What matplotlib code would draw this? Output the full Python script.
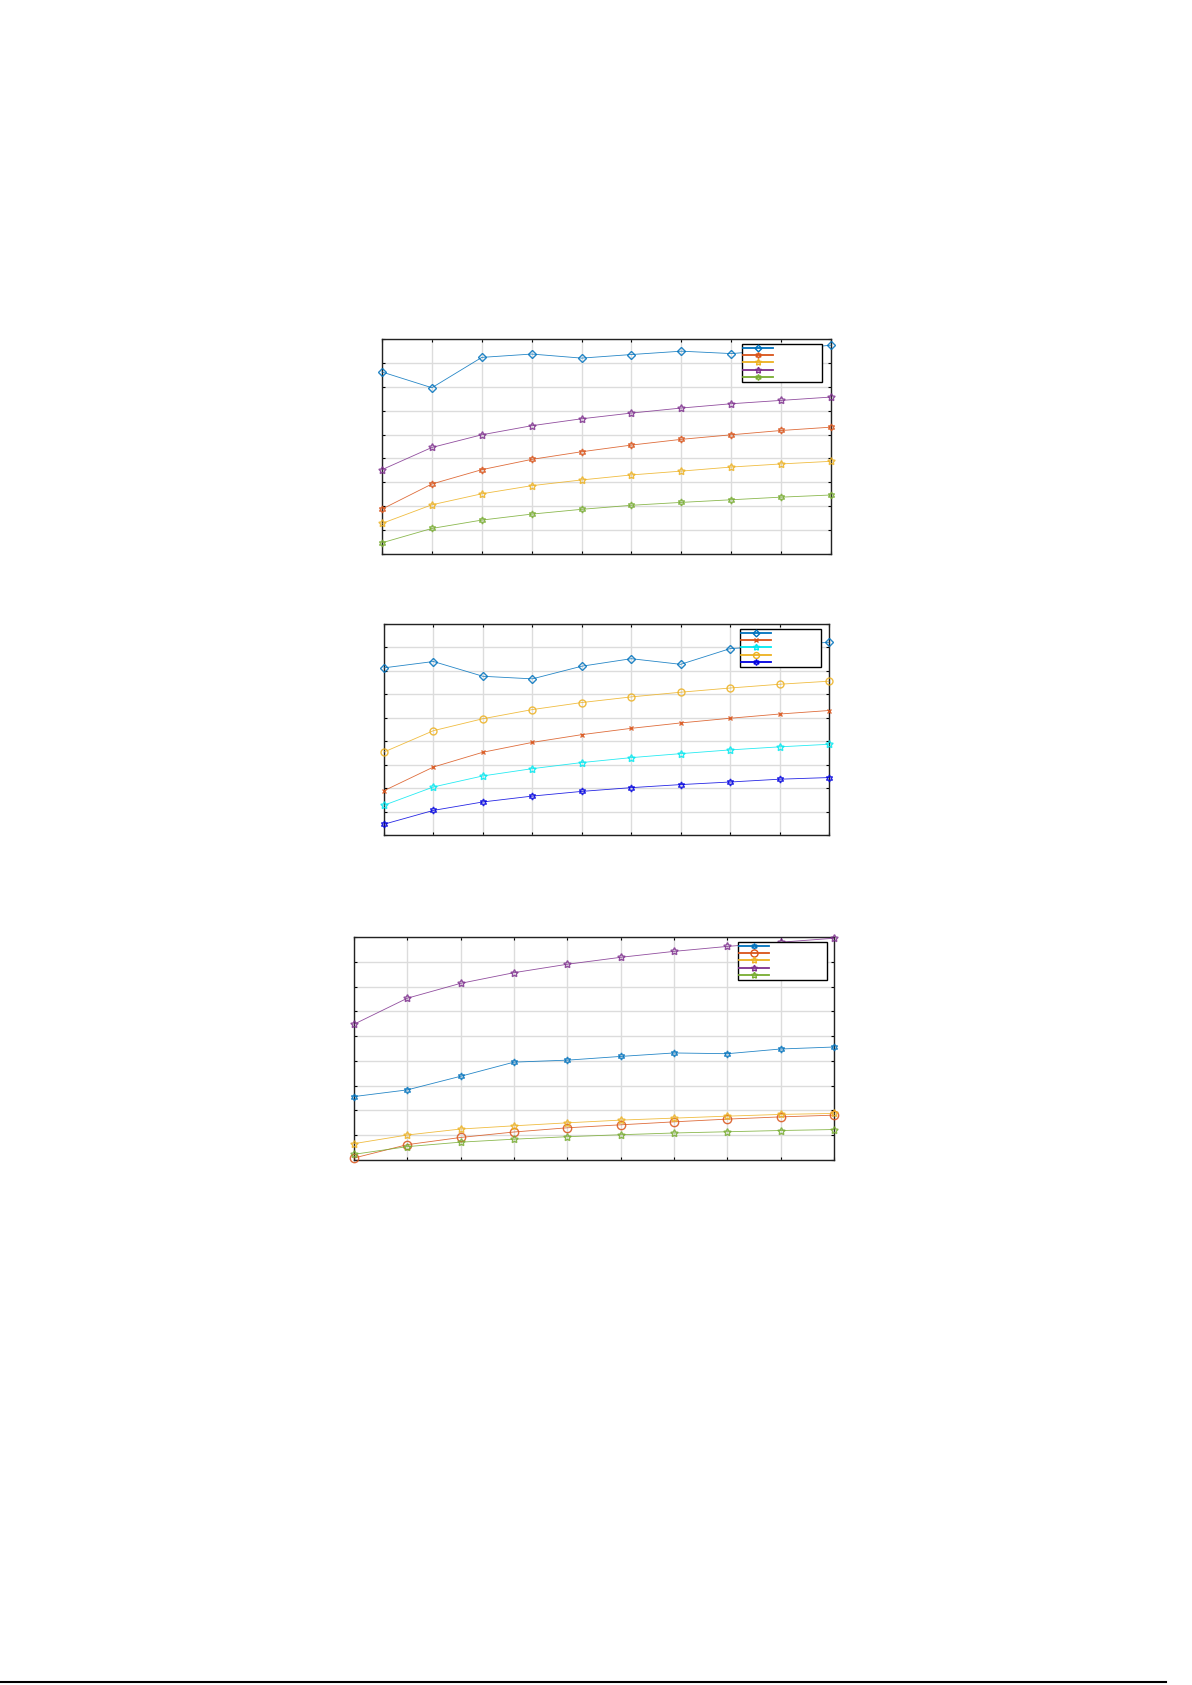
import numpy as np
import matplotlib
matplotlib.use('Agg')
import matplotlib.pyplot as plt
from matplotlib.lines import Line2D

# x positions (one point per vertical grid line)
steps = [1, 2, 3, 4, 5, 6, 7, 8, 9, 10]

# chart 1 (values in grid units)
c1_blue = [7.62, 6.96, 8.23, 8.37, 8.20, 8.35, 8.49, 8.39, 8.55, 8.74]
c1_orange = [1.88, 2.93, 3.53, 3.96, 4.28, 4.56, 4.80, 4.99, 5.17, 5.31]
c1_yellow = [1.28, 2.06, 2.52, 2.86, 3.10, 3.31, 3.47, 3.64, 3.77, 3.88]
c1_purple = [3.53, 4.46, 4.99, 5.37, 5.66, 5.90, 6.11, 6.29, 6.43, 6.57]
c1_green = [0.47, 1.07, 1.42, 1.67, 1.87, 2.04, 2.16, 2.27, 2.38, 2.47]

# chart 2
c2_blue = [7.13, 7.40, 6.77, 6.66, 7.20, 7.52, 7.28, 7.95, 8.08, 8.22]
c2_orange = [1.89, 2.90, 3.53, 3.95, 4.28, 4.55, 4.78, 4.98, 5.16, 5.31]
c2_cyan = [1.27, 2.05, 2.52, 2.83, 3.09, 3.30, 3.47, 3.63, 3.76, 3.87]
c2_yellow = [3.54, 4.45, 4.96, 5.35, 5.65, 5.89, 6.09, 6.27, 6.43, 6.56]
c2_navy = [0.46, 1.05, 1.41, 1.66, 1.86, 2.02, 2.15, 2.26, 2.38, 2.45]

# chart 3
c3_blue = [2.56, 2.83, 3.38, 3.95, 4.03, 4.18, 4.32, 4.29, 4.48, 4.56]
c3_orange = [0.08, 0.62, 0.91, 1.13, 1.30, 1.42, 1.54, 1.65, 1.74, 1.81]
c3_yellow = [0.66, 1.01, 1.25, 1.38, 1.50, 1.61, 1.69, 1.77, 1.84, 1.88]
c3_purple = [5.48, 6.53, 7.13, 7.56, 7.90, 8.18, 8.42, 8.62, 8.79, 8.95]
c3_green = [0.23, 0.54, 0.72, 0.84, 0.94, 1.02, 1.09, 1.14, 1.19, 1.23]

BLUE = '#0072BD'
ORANGE = '#D95319'
YELLOW = '#EDB120'
PURPLE = '#7E2F8E'
GREEN = '#77AC30'
CYAN = '#00E8F0'
NAVY = '#0000E0'

HEX = (6, 1, 0)
PENT = (5, 1, 0)

charts = [
    # axes rect in pixels (left, top, right, bottom), legend box, series
    ((382, 339, 831, 554), (742, 344, 822),
     [(c1_blue, BLUE, 'D', 4.0), (c1_orange, ORANGE, HEX, 5.0),
      (c1_yellow, YELLOW, PENT, 5.5), (c1_purple, PURPLE, PENT, 5.5),
      (c1_green, GREEN, HEX, 5.0)]),
    ((384, 624, 829, 835), (740, 629, 821),
     [(c2_blue, BLUE, 'D', 4.0), (c2_orange, ORANGE, 'x', 3.5),
      (c2_cyan, CYAN, PENT, 5.5), (c2_yellow, YELLOW, 'o', 5.0),
      (c2_navy, NAVY, HEX, 5.0)]),
    ((354, 937, 834, 1160), (738, 942, 827),
     [(c3_blue, BLUE, HEX, 5.0), (c3_orange, ORANGE, 'o', 6.0),
      (c3_yellow, YELLOW, PENT, 5.5), (c3_purple, PURPLE, PENT, 5.5),
      (c3_green, GREEN, PENT, 5.5)]),
]

W, H = 1192, 1685
fig = plt.figure(figsize=(W / 100, H / 100), dpi=100)

for (l, t, r, b), (lx0, ly0, lx1), series in charts:
    ax = fig.add_axes([l / W, 1 - b / H, (r - l) / W, (b - t) / H])
    handles = []
    for vals, col, mk, ms in series:
        ax.plot(steps, vals, color=col, lw=0.6, marker=mk, ms=ms,
                mfc='none', mec=col, mew=1.0, alpha=0.85, clip_on=False, zorder=3)
        handles.append(Line2D([], [], color=col, lw=1.3, marker=mk, ms=ms * 0.85,
                              mfc='none', mec=col, mew=1.0))
    ax.set_xlim(steps[0], steps[-1])
    ax.set_ylim(0, 9)
    ax.set_xticks(steps)
    ax.set_yticks(range(0, 10))
    ax.set_xticklabels([])
    ax.set_yticklabels([])
    ax.tick_params(direction='in', length=2.5, width=0.8, top=True, right=True)
    ax.grid(True, color='#dcdcdc', lw=1.0)
    ax.set_axisbelow(True)
    for sp in ax.spines.values():
        sp.set_linewidth(1.0)
        sp.set_color('#222222')

    x0 = (lx0 - l) / (r - l)
    w = (lx1 - lx0) / (r - l)
    top = (b - ly0) / (b - t)
    leg = ax.legend(handles, ['\u00a0'] * len(handles), loc='upper left',
                    bbox_to_anchor=(x0, 0, w, top), mode='expand',
                    borderaxespad=0, fontsize=5, labelspacing=0.18,
                    borderpad=0.2, handlelength=4.3, handletextpad=0.5,
                    fancybox=False, framealpha=1, edgecolor='black')
    leg.get_frame().set_linewidth(1.0)
    leg.set_zorder(5)

# page footer rule
fig.add_artist(Line2D([0, 1166 / W], [1 - 1682 / H] * 2, color='black', lw=1.5))

fig.savefig('out.png', dpi=100, facecolor='white')
